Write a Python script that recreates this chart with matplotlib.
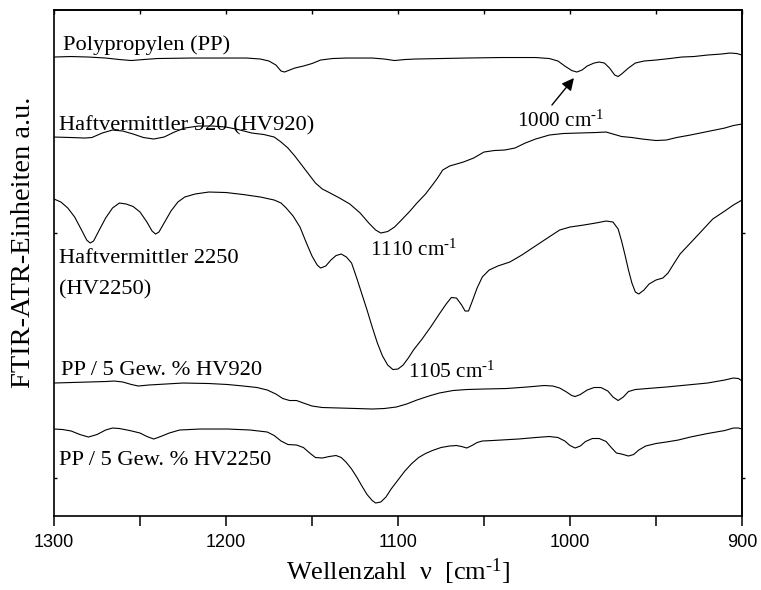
import matplotlib
matplotlib.use("Agg")
import matplotlib.pyplot as plt

# FTIR-ATR Spektren (Wellenzahl in cm-1, Intensitaet in a.u., versetzt gezeichnet)
pp_wn = [1300, 1290, 1280, 1270, 1262, 1255, 1248, 1240, 1220, 1200, 1188, 1180, 1175, 1171,
         1168, 1166, 1163, 1160, 1155, 1150, 1145, 1138, 1130, 1115, 1108, 1102, 1096, 1090,
         1075, 1060, 1040, 1020, 1012, 1007, 1003, 999, 996, 993, 990, 986, 983, 980, 977,
         974, 972, 970, 966, 962, 957, 950, 942, 935, 928, 920, 912, 907, 903, 900]
pp_y = [459, 459.5, 459, 458, 456.5, 455.5, 456.5, 457.5, 458, 458, 458, 457, 455, 451,
        445, 444, 446, 448, 450, 452.5, 456, 457.5, 458, 458, 457, 455.5, 456.5, 457,
        457.5, 458, 458.5, 458.5, 457.5, 455, 450, 445.5, 444, 446, 450, 453, 454, 453, 448,
        441, 439.5, 442, 448, 453, 455, 456, 457.5, 459, 459.5, 461, 462, 463, 462.5, 461]

hv920_wn = [1300, 1290, 1282, 1278, 1272, 1266, 1260, 1254, 1248, 1242, 1236, 1230, 1224, 1216,
            1208, 1200, 1193, 1185, 1178, 1172, 1168, 1164, 1160, 1156, 1152, 1148, 1144, 1140,
            1134, 1128, 1122, 1117, 1113, 1110, 1106, 1102, 1098, 1093, 1089, 1084, 1080, 1077,
            1074, 1070, 1066, 1062, 1056, 1050, 1044, 1038, 1032, 1026, 1020, 1012, 1004, 995,
            985, 979, 975, 970, 964, 958, 950, 944, 938, 930, 920, 910, 905, 900]
hv920_y = [379, 378.5, 378, 378.5, 383, 386, 385, 382, 378.5, 377, 379, 384, 388, 390,
           390, 389, 386.5, 383, 381.5, 379, 374, 368, 360, 351, 342, 333, 327, 323.5,
           318, 312, 303, 293, 286, 283, 284.5, 289, 296, 305, 313, 322, 331, 338,
           346, 350, 352, 354, 358, 364, 365.5, 366, 368, 373, 377, 381, 382.5, 383,
           383.5, 384, 382, 379.5, 378.5, 377, 375.5, 376, 378.5, 381, 384.5, 388, 390.5, 392]

hv2250_wn = [1300, 1296, 1292, 1288, 1284, 1281, 1279, 1277, 1274, 1270, 1266, 1262, 1258, 1254,
             1250, 1246, 1243, 1241, 1239, 1236, 1232, 1228, 1224, 1218, 1210, 1200, 1190, 1180,
             1172, 1168, 1165, 1161, 1157, 1153, 1150, 1147, 1145, 1142, 1139, 1136, 1133, 1130,
             1127, 1124, 1121, 1118, 1115, 1112, 1109, 1106, 1103, 1100, 1097, 1094, 1091, 1086,
             1081, 1076, 1072, 1069, 1066, 1063, 1061, 1059, 1057, 1054, 1051, 1047, 1042, 1035,
             1028, 1021, 1014, 1006, 1000, 992, 985, 979, 975, 972, 970, 968, 966, 964, 962, 960,
             957, 954, 950, 946, 943, 939, 936, 930, 924, 917, 910, 905, 900]
hv2250_y = [317, 314, 308, 299, 286, 276, 273, 275, 285, 298, 308, 313, 312, 309.5,
            304, 294, 285, 282, 284, 293, 305, 314, 319, 322, 324, 323.5, 321.5, 319,
            316, 313, 308, 300, 289, 272, 260, 251, 248, 250, 256, 260.5, 262, 259,
            253, 238, 222, 206, 189, 173, 160, 151, 146.5, 147, 151, 158, 166, 177,
            189, 202, 212, 218.5, 218, 211, 205, 205, 214, 228, 239, 246, 250, 254,
            261, 269, 277, 286, 289, 291, 293, 295, 294, 287, 275, 261, 246, 233, 224, 222,
            226, 232, 236, 238, 243, 254, 262, 273, 284, 297, 305, 311, 316]

mix920_wn = [1300, 1290, 1280, 1270, 1265, 1260, 1255, 1251, 1245, 1235, 1225, 1210, 1199, 1190,
             1182, 1176, 1171, 1167, 1163, 1159, 1155, 1150, 1144, 1134, 1124, 1115, 1108, 1101,
             1095, 1089, 1082, 1076, 1068, 1060, 1050, 1037, 1025, 1015, 1010, 1006, 1002, 999,
             997, 994, 990, 986, 982, 978, 975, 972, 969, 966, 962, 955, 944, 935, 920, 910,
             905, 902, 900]
mix920_y = [133, 133.5, 134, 134.5, 135, 134, 131.5, 130, 131, 132, 133, 132.5, 131.5, 130,
            128.5, 126, 122, 117.5, 115.5, 115.5, 113, 110, 108.5, 108, 107.5, 107, 107.5, 109,
            112, 116, 120, 123, 125.5, 126.5, 127, 127.5, 129, 130.5, 130, 128, 124, 120.5,
            119.5, 121.5, 126, 128.5, 128.5, 125, 119, 115.5, 119, 124.5, 126.5, 127.5, 129,
            130.5, 133, 136, 138, 137.5, 135]

mix2250_wn = [1300, 1295, 1290, 1285, 1280, 1275, 1270, 1266, 1262, 1256, 1250, 1246, 1242, 1238,
              1233, 1227, 1215, 1199, 1186, 1176, 1172, 1168, 1164, 1159, 1155, 1151, 1148, 1144,
              1140, 1136, 1133, 1130, 1127, 1124, 1121, 1118, 1115, 1113, 1110, 1107, 1104, 1100,
              1096, 1092, 1088, 1084, 1080, 1075, 1070, 1066, 1063, 1060, 1057, 1054, 1051, 1045,
              1030, 1020, 1012, 1007, 1003, 1000, 997, 994, 991, 987, 983, 979, 976, 973, 970,
              966, 963, 960, 956, 950, 944, 937, 930, 920, 910, 905, 902, 900]
mix2250_y = [87, 86.5, 85, 81.5, 79, 81.5, 86, 88, 87.5, 85.5, 83, 79.5, 77, 79.5,
             83, 86, 87, 87, 86, 84, 80.5, 75, 71.5, 71, 68.5, 62.5, 58.5, 58,
             59.5, 60.5, 58.5, 53.5, 47, 39, 30, 21.5, 15.5, 13, 14, 19, 27, 36,
             45, 52.5, 58.5, 62.5, 65.5, 68.5, 70, 70.5, 69.5, 68, 70.5, 73.5, 75, 75.5,
             77, 78.5, 79.5, 78.5, 75, 70.5, 68, 70, 74.5, 77.5, 77.5, 74.5, 68.5, 63, 62,
             60, 61.5, 66, 70, 72.5, 74, 76, 79, 82.5, 85.5, 88, 88, 87]

curve_labels = ["Polypropylen (PP)", "Haftvermittler 920 (HV920)", "Haftvermittler 2250",
                "(HV2250)", "PP / 5 Gew. % HV920", "PP / 5 Gew. % HV2250"]
label_pos = [(1295, 466), (1297, 386), (1297, 253), (1297, 222), (1296, 141), (1297, 51)]

peak_labels = ["1110 cm$^{\\text{-}1}$", "1105 cm$^{\\text{-}1}$", "1000 cm$^{\\text{-}1}$"]
peak_pos = [(1116, 260), (1094, 138), (1031, 389)]

plt.rcParams["mathtext.fontset"] = "custom"
plt.rcParams["mathtext.rm"] = "Liberation Serif"
plt.rcParams["mathtext.default"] = "regular"

serif = "Liberation Serif"

fig = plt.figure(figsize=(7.61, 5.90), dpi=100)
ax = fig.add_axes([0.071, 0.1254, 0.904, 0.8576])

for wn, y in [(pp_wn, pp_y), (hv920_wn, hv920_y), (hv2250_wn, hv2250_y),
              (mix920_wn, mix920_y), (mix2250_wn, mix2250_y)]:
    ax.plot(wn, y, color="black", linewidth=0.8)

ax.set_xlim(1300, 900)
ax.set_ylim(0, 506)

for txt, (x, y) in zip(curve_labels, label_pos):
    ax.text(x, y, txt, family=serif, fontsize=16.2, va="baseline", ha="left")
for txt, (x, y) in zip(peak_labels, peak_pos):
    ax.text(x, y, txt, family=serif, fontsize=15.3, va="baseline", ha="left")

ax.annotate("", xy=(997.7, 438), xytext=(1010.5, 411),
            arrowprops=dict(arrowstyle="-|>", color="black", lw=1.0,
                            mutation_scale=18, shrinkA=0, shrinkB=0))

ax.set_xticks([1300, 1200, 1100, 1000, 900])
ax.set_xticks([1250, 1150, 1050, 950], minor=True)
ax.set_yticks([38, 283])
ax.set_yticklabels([])
ax.tick_params(axis="x", which="both", direction="out", length=7, width=1.1,
               labelsize=13, pad=6)
ax.tick_params(axis="y", which="both", direction="in", length=2, width=1.0)
for lbl in ax.get_xticklabels():
    lbl.set_family("Liberation Sans")

top = ax.secondary_xaxis("top")
top.set_xticks([1300, 1250, 1200, 1150, 1100, 1050, 1000, 950, 900])
top.tick_params(direction="in", length=3, width=1.0, labeltop=False)
right = ax.secondary_yaxis("right")
right.set_yticks([38, 283])
right.tick_params(direction="out", length=2, width=1.0, labelright=False)

for sp in ax.spines.values():
    sp.set_linewidth(1.2)
top.spines["top"].set_linewidth(1.2)
right.spines["right"].set_linewidth(1.2)

ax.set_xlabel("Wellenzahl  \u03bd  [cm$^{\\text{-}1}$]", family=serif, fontsize=19, labelpad=4)
ax.set_ylabel("FTIR-ATR-Einheiten a.u.", family=serif, fontsize=20.5)
ax.yaxis.set_label_coords(-0.026, 0.54)

fig.savefig("out.png", dpi=100)
